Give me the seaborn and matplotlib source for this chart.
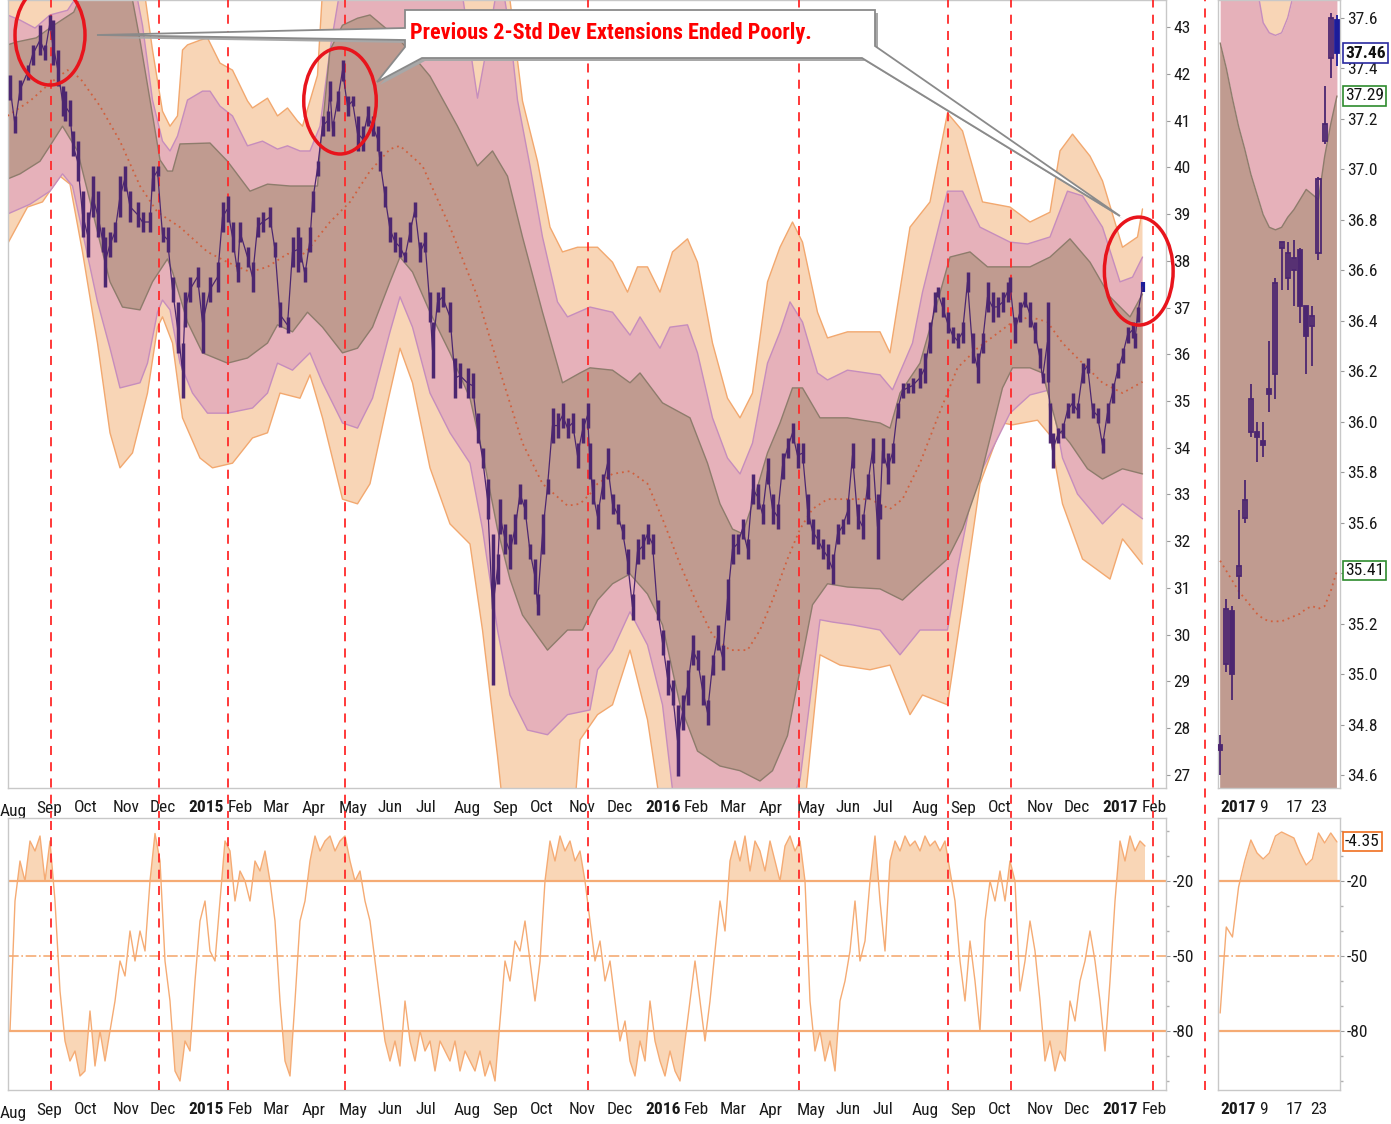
import numpy as np
import pandas as pd
import matplotlib
matplotlib.use("Agg")
import matplotlib.pyplot as plt
import matplotlib.transforms as mtrans
import seaborn as sns
from matplotlib.patches import Ellipse, Polygon, Rectangle
from matplotlib.lines import Line2D
from matplotlib import font_manager as fm

sns.set_theme(style="white")


def pick_font():
    for f in ["Liberation Sans Narrow", "Roboto Condensed", "DejaVu Sans"]:
        try:
            fm.findfont(f, fallback_to_default=False)
            return f
        except Exception:
            pass
    return "DejaVu Sans"


FONT = pick_font()
plt.rcParams["font.family"] = [FONT, "DejaVu Sans"]

# ---------------- data (x = days since 2014-08-01) ----------------
BASE = "2014-08-01"

price_day = [10,14,18,24,28,34,38,42,44,48,52,54,58,60,64,68,72,76,80,84,86,90,94,98,102,106,112,116,122,124,
             128,132,136,140,144,148,150,154,160,164,170,176,180,184,188,192,194,200,204,208,212,218,222,226,232,236,240,242,246,250,
             252,256,260,264,266,268,272,276,280,284,288,292,296,300,304,306,310,314,318,322,326,330,334,338,342,346,348,352,356,362,
             366,370,376,380,384,388,392,396,400,402,406,410,414,418,422,426,430,432,436,440,444,448,452,456,460,464,468,472,474,476,
             480,484,488,492,496,500,504,508,512,516,520,524,528,532,536,540,544,548,552,556,560,564,568,572,576,580,584,588,592,596,
             600,604,608,612,616,620,624,628,632,636,640,644,648,652,656,660,664,668,672,676,680,684,688,692,696,700,704,706,708,712,
             716,720,724,728,732,738,742,746,750,752,756,760,764,768,772,776,780,784,788,792,796,800,804,808,810,814,818,822,826,830,
             834,836,840,842,844,848,852,856,860,864,868,872,876,880,884,888,892,896,900,904,908,910,912,916]
price_high = [41.97,41.10,41.87,42.19,42.62,43.04,42.62,43.26,43.15,42.51,41.74,41.63,41.44,40.78,40.56,39.49,39.04,39.81,39.49,38.72,
              38.51,38.62,38.83,39.81,40.03,39.49,39.26,39.04,39.04,40.03,40.03,38.72,38.72,37.65,37.12,36.24,37.33,37.65,37.87,37.33,
              37.65,37.97,39.26,39.39,38.83,37.97,38.83,38.29,37.97,38.94,39.04,39.15,38.40,37.12,36.80,38.51,38.72,38.51,37.87,38.72,
              39.49,40.14,41.10,41.20,41.85,40.99,41.63,42.29,41.52,41.52,41.10,40.88,41.31,41.10,40.88,40.35,39.60,38.94,38.62,38.51,
              38.19,38.83,39.26,38.40,38.62,37.33,36.69,37.33,37.44,37.12,35.92,35.81,35.71,35.60,34.74,33.99,33.33,32.16,31.73,32.90,
              32.37,32.16,32.58,33.23,32.90,31.94,31.62,30.87,32.58,33.33,34.85,34.74,34.96,34.64,34.74,34.10,34.64,34.96,34.10,33.33,
              32.80,33.44,33.99,33.01,32.80,32.37,31.84,30.87,32.05,32.16,32.37,32.16,30.74,30.10,29.46,29.03,28.50,28.71,29.25,29.99,
              29.67,29.14,28.60,29.57,30.21,29.78,31.19,32.16,32.16,32.48,32.05,33.44,33.23,32.80,33.78,33.01,32.80,33.89,34.21,34.53,
              34.10,34.10,33.01,32.48,32.26,32.05,31.94,31.73,32.37,32.48,32.90,34.10,32.80,32.58,33.44,34.21,33.01,32.80,34.21,33.89,
              34.10,34.96,35.39,35.39,35.49,35.71,36.03,36.69,37.33,37.44,37.23,36.90,36.58,36.45,36.69,37.76,36.45,36.03,36.45,37.55,
              37.33,37.23,37.33,37.55,37.65,36.80,37.12,37.33,37.12,36.69,36.13,35.60,37.12,34.96,34.32,34.42,34.53,34.96,35.17,34.96,
              35.81,35.92,34.96,34.85,34.21,34.96,35.39,35.81,36.13,36.58,36.69,36.45,37.01,37.55]
price_low = [41.44,40.73,41.44,41.87,42.19,42.40,42.29,42.94,42.19,41.74,41.10,40.99,40.88,40.24,39.71,38.51,38.08,38.94,38.51,38.19,
             37.44,38.08,38.40,38.94,39.49,38.83,38.72,38.62,38.62,39.49,39.81,38.40,38.19,37.12,36.03,35.06,36.58,37.12,37.44,36.03,
             37.12,37.33,38.62,38.83,38.19,37.55,38.40,37.87,37.33,38.51,38.62,38.72,38.08,36.58,36.45,37.87,37.76,37.97,37.55,38.19,
             39.04,39.81,40.67,40.78,41.42,40.67,41.20,41.85,41.10,41.31,40.35,40.35,40.88,40.67,40.35,39.92,39.15,38.40,38.19,38.08,
             37.97,38.40,38.94,37.97,38.19,36.69,35.49,36.90,37.01,36.48,35.06,35.28,35.06,35.06,34.10,33.57,32.48,28.93,31.09,32.16,
             31.73,31.41,31.94,32.80,32.48,31.62,30.87,30.42,31.73,33.01,34.10,34.21,34.42,34.21,34.32,33.57,34.10,34.42,33.33,32.80,
             32.26,32.90,33.33,32.58,32.37,32.05,31.30,30.32,31.51,31.62,31.94,31.73,30.32,29.57,28.71,28.50,26.98,27.96,28.50,29.35,
             29.25,28.50,28.07,29.14,29.67,29.25,30.32,31.51,31.73,32.05,31.62,32.80,32.69,32.37,33.23,32.37,32.26,33.33,33.78,34.10,
             33.57,33.67,32.37,31.94,31.84,31.62,31.41,31.09,31.94,32.16,32.37,33.57,32.26,32.05,32.90,33.67,31.62,32.48,33.67,33.23,
             33.67,34.64,35.06,35.17,35.17,35.28,35.39,36.03,36.90,37.23,36.80,36.45,36.24,36.13,36.24,37.33,35.81,35.39,36.03,36.90,
             36.69,36.80,36.90,37.12,37.33,36.24,36.69,37.01,36.58,36.24,35.71,35.39,35.40,34.10,33.57,34.10,34.21,34.64,34.74,34.64,
             35.39,35.60,34.64,34.53,33.89,34.53,34.96,35.49,35.81,36.24,36.35,36.13,36.69,37.33]

ma_day = [8,26,42,56,66,82,98,114,128,146,168,184,202,216,232,242,250,266,282,298,314,322,340,362,384,400,420,436,456,466,
          474,480,492,506,520,532,546,560,572,586,600,610,620,632,642,652,664,680,698,714,724,738,752,768,784,800,812,826,840,852,
          868,884,900,916]
ma_val = [41.10,41.42,41.80,42.08,41.91,41.31,40.56,39.60,39.04,38.72,38.19,37.97,37.76,37.87,38.15,38.08,38.29,38.83,39.26,39.92,
          40.39,40.46,40.03,38.72,37.23,35.81,34.10,33.23,32.76,32.80,33.01,33.23,33.44,33.50,33.23,32.48,31.51,30.64,29.99,29.67,
          29.67,30.10,30.74,31.62,32.26,32.69,32.90,32.90,32.90,32.69,32.90,33.67,34.64,35.71,36.13,36.45,36.69,36.80,36.69,36.24,
          35.81,35.39,35.17,35.41]

# inner (brown) band
bu_day = [8,15,31,45,61,72,82,98,108,114,122,130,136,140,146,170,184,202,216,234,256,258,266,276,288,298,322,346,368,384,
          396,408,420,436,452,466,474,492,506,514,532,554,568,578,588,596,604,616,626,636,644,658,680,706,714,722,738,752,762,778,
          792,810,826,842,858,874,890,906,916]
bu_val = [42.62,42.68,42.77,43.04,43.32,44.01,44.43,44.43,43.58,42.72,41.44,40.16,39.92,39.92,40.50,40.52,40.13,39.49,39.64,39.60,
          39.60,40.35,42.51,43.04,43.19,43.26,42.72,41.95,40.88,40.03,40.35,39.81,38.51,36.90,35.39,35.60,35.71,35.66,35.39,35.60,
          34.96,34.64,33.67,32.80,32.26,32.16,32.80,33.89,34.53,35.28,35.28,34.64,34.64,34.53,34.42,35.17,35.81,37.12,38.08,38.19,
          37.87,37.87,37.87,38.08,38.47,37.97,37.23,36.80,37.29]
bl_day = [8,18,34,42,52,64,74,82,90,100,114,124,136,140,152,164,184,200,216,224,236,248,260,276,288,300,314,322,332,346,
          362,378,388,400,410,420,440,456,468,480,492,506,520,532,546,560,578,594,610,620,632,642,652,664,680,706,724,738,760,772,
          786,804,812,826,836,848,858,872,884,900,916]
bl_val = [39.75,39.86,40.13,40.46,40.88,40.35,39.28,38.40,37.55,37.01,36.95,37.55,38.04,37.76,36.69,36.03,35.81,35.92,36.24,36.63,
          36.48,36.90,36.58,36.03,36.13,36.58,37.55,38.08,37.76,36.90,36.03,35.06,33.89,32.26,31.19,30.42,29.67,30.10,30.10,30.74,
          31.09,31.30,30.87,30.21,28.50,27.51,27.19,27.09,26.87,27.09,27.84,29.25,30.64,31.09,31.02,30.98,30.74,31.09,31.62,32.26,
          33.33,35.28,35.71,35.71,35.60,34.42,34.10,33.55,33.33,33.55,33.44]
# 2-std (pink) band
pu_day = [8,18,30,42,56,64,82,106,116,124,132,138,144,152,164,170,178,188,200,212,224,232,242,250,258,266,274,290,330,372,
          380,384,394,402,410,416,426,436,448,456,474,492,506,514,530,538,552,560,572,584,594,604,616,626,634,644,656,664,680,706,
          716,732,740,760,772,786,810,824,842,856,868,884,898,908,916]
pu_val = [43.26,43.15,42.98,43.26,43.36,43.68,44.43,44.43,43.04,41.44,40.56,40.35,40.67,41.44,41.63,41.63,41.31,41.10,40.46,40.56,
          40.39,40.46,40.35,40.35,40.88,42.51,43.79,44.43,44.43,43.68,42.20,41.48,42.94,44.22,42.90,41.44,40.03,38.51,37.12,36.80,
          37.01,36.90,36.41,36.80,36.13,36.58,36.63,36.03,34.64,33.78,33.44,34.10,35.81,36.48,37.12,36.69,35.60,35.45,35.66,35.56,
          35.24,36.24,37.33,39.49,39.49,38.72,38.40,38.36,38.51,39.49,39.39,38.72,37.55,37.65,38.08]
pl_day = [8,26,42,52,60,68,80,90,98,114,120,128,132,138,146,156,168,184,204,216,224,236,250,260,276,288,300,314,322,332,
          346,362,378,388,400,410,424,440,456,474,480,492,506,520,532,540,562,626,642,650,658,668,684,706,722,738,760,768,778,788,
          810,826,842,852,864,884,900,916]
pl_val = [39.00,39.21,39.49,39.86,39.60,38.62,37.12,36.13,35.28,35.39,35.81,36.90,37.16,36.95,35.81,35.17,34.74,34.74,34.85,35.17,
          35.81,35.66,36.03,35.39,34.53,34.42,35.06,36.48,37.23,36.58,35.17,34.32,33.67,32.26,30.10,28.71,27.96,27.86,28.29,28.39,
          29.25,29.67,30.49,29.78,28.50,26.68,25.80,25.80,26.89,28.60,30.32,30.27,30.21,30.10,29.57,30.10,30.10,31.41,32.80,33.55,
          34.74,35.13,35.24,33.78,33.01,32.37,32.80,32.48]
# 3-std (orange) band
ou_day = [8,114,124,132,138,144,148,152,162,168,178,188,200,204,216,224,232,240,244,256,260,274,406,414,420,432,442,452,464,480,
          492,504,512,520,530,540,552,560,572,584,594,604,616,626,636,644,656,664,680,706,714,730,746,760,772,788,810,826,842,850,
          860,874,884,900,912,916]
ou_val = [44.43,44.43,42.51,41.20,40.88,41.10,42.51,42.62,42.72,42.77,42.23,42.08,41.42,41.27,41.48,41.10,41.27,40.99,40.88,41.97,
          43.79,44.43,44.43,42.72,41.42,40.13,38.72,38.19,38.29,38.29,37.97,37.33,37.87,37.87,37.33,38.19,38.47,37.97,36.24,35.06,
          34.64,35.17,37.55,38.29,38.83,38.40,36.90,36.35,36.48,36.48,36.03,38.72,39.26,41.16,40.78,39.26,39.15,38.83,39.04,40.35,
          40.71,40.24,39.71,38.29,38.51,39.11]
ol_day = [8,24,36,50,58,68,80,90,98,108,120,128,132,140,148,162,172,188,204,216,226,242,250,260,276,288,298,312,322,332,
          346,362,378,388,400,404,462,466,480,492,506,520,530,646,658,674,698,714,730,740,760,772,786,804,812,832,842,852,868,890,
          900,916]
ol_val = [38.36,39.15,39.26,39.81,39.64,38.19,36.24,34.32,33.57,33.89,35.17,36.58,36.80,36.24,34.64,33.78,33.57,33.67,34.21,34.32,
          35.17,35.06,35.56,34.64,32.90,32.80,33.23,34.96,36.13,35.39,33.57,32.37,31.94,30.10,27.41,26.40,26.40,27.75,28.29,28.50,
          29.67,28.18,26.40,26.40,29.57,29.35,29.25,29.35,28.29,28.71,28.50,30.64,33.23,34.53,34.49,34.59,34.27,32.80,31.62,31.19,
          32.05,31.51]

# Williams %R, sampled every 4 days from day 10
osc_val = [-80,-28,-12,-20,-4,-8,-2,-20,-4,-28,-64,-84,-92,-88,-98,-96,-72,-94,-80,-92,
           -80,-68,-52,-58,-40,-52,-40,-48,-20,-1,-12,-52,-68,-96,-100,-84,-88,-60,-36,-28,
           -48,-52,-28,-4,-8,-28,-16,-20,-28,-12,-16,-8,-20,-36,-68,-92,-98,-68,-36,-28,
           -12,-2,-8,-4,-2,-8,-4,-2,-12,-20,-16,-28,-36,-52,-68,-84,-92,-84,-94,-68,
           -84,-92,-80,-88,-84,-96,-84,-88,-92,-84,-96,-88,-92,-96,-88,-98,-92,-100,-76,-52,
           -60,-44,-48,-36,-52,-68,-52,-20,-4,-12,-2,-8,-4,-12,-8,-20,-36,-52,-44,-60,
           -52,-68,-84,-76,-92,-98,-84,-92,-68,-84,-92,-98,-88,-96,-100,-84,-68,-52,-68,-84,
           -68,-48,-28,-40,-12,-4,-12,-2,-16,-4,-8,-16,-4,-12,-20,-6,-2,-8,-4,-20,
           -68,-88,-80,-92,-84,-96,-68,-60,-48,-28,-52,-44,-20,-2,-28,-48,-12,-4,-8,-2,
           -6,-4,-8,-2,-6,-4,-8,-4,-16,-28,-52,-68,-44,-60,-80,-36,-20,-28,-16,-28,
           -12,-20,-64,-52,-36,-48,-68,-92,-84,-96,-88,-92,-68,-76,-60,-52,-40,-52,-68,-88,
           -60,-28,-4,-12,-2,-8,-4,-6]

event_dates = ["2014-09-13", "2014-12-08", "2015-02-01", "2015-05-06", "2015-11-16",
               "2016-05-03", "2016-08-30", "2016-10-20", "2017-02-10"]

# right panel: daily candles, Dec 28 2016 .. Jan 26 2017
rp_open  = [34.72,35.04,35.25,35.39,35.62,35.96,35.96,35.92,36.13,36.19,36.69,36.57,36.60,36.68,36.46,36.38,36.67,37.11,37.44,37.59]
rp_high  = [34.76,35.30,35.27,35.65,35.77,36.15,36.00,36.00,36.32,36.57,36.71,36.71,36.72,36.69,36.46,36.46,36.97,37.33,37.62,37.61]
rp_low   = [34.60,35.01,34.90,35.30,35.60,35.94,35.84,35.86,36.04,36.09,36.52,36.52,36.46,36.39,36.19,36.22,36.64,37.10,37.36,37.41]
rp_close = [34.70,35.26,35.00,35.43,35.69,36.09,35.94,35.91,36.11,36.55,36.71,36.67,36.65,36.46,36.34,36.42,36.96,37.18,37.60,37.46]
rp_ma    = [35.45,35.41,35.37,35.33,35.30,35.27,35.24,35.22,35.21,35.21,35.21,35.22,35.23,35.24,35.26,35.27,35.26,35.27,35.33,35.41]
rp_bu    = [37.50,37.40,37.28,37.17,37.08,36.98,36.90,36.82,36.77,36.76,36.77,36.81,36.84,36.88,36.92,36.90,36.88,37.05,37.18,37.29]
rp_pu    = [38.30,38.20,38.10,38.00,37.90,37.80,37.72,37.58,37.54,37.53,37.54,37.60,37.70,37.80,37.90,38.00,38.10,38.20,38.30,38.40]
rp_osc   = [-72.8,-38.4,-42.4,-22.4,-12,-3.6,-8.8,-11.2,-8.8,-2,-0.4,-1.6,-2.8,-8.8,-13.6,-11.2,-0.8,-4.8,-0.8,-4.35]
rp_tick_idx = [3, 7, 12, 16]
rp_tick_lab = ["2017", "9", "17", "23"]

# ---------------- styling ----------------
C_OR, C_ORE = "#f8d5b6", "#f2a86f"
C_PK, C_PKE = "#e6b1ba", "#c68dbd"
C_BR, C_BRE = "#c09b90", "#8e7c6c"
C_PR = "#4c2670"
C_MA = "#d0603e"
C_RED = "#ff2a2a"
C_OSC, C_OSCF = "#f5ab74", "#f9d6b6"
C_SP = "#c8c8c8"

W, H = 1391, 1124
fig = plt.figure(figsize=(W / 100, H / 100), dpi=100, facecolor="white")


def rect(x0, y0, x1, y1):
    return [x0 / W, 1 - y1 / H, (x1 - x0) / W, (y1 - y0) / H]


ax = fig.add_axes(rect(8, 0, 1166, 788))
axr = fig.add_axes(rect(1218, 0, 1340, 788))
axo = fig.add_axes(rect(8, 818, 1166, 1090))
axor = fig.add_axes(rect(1218, 818, 1340, 1090))

base = pd.Timestamp(BASE)
XL = (8.4, 934.8)


def style(a):
    a.set_facecolor("white")
    for s in a.spines.values():
        s.set_color(C_SP)
        s.set_linewidth(1.0)
    a.tick_params(axis="both", colors="#9a9a9a", labelcolor="#1a1a1a", labelsize=12.5,
                  length=3, width=0.8, pad=2)
    a.yaxis.tick_right()
    a.grid(False)


for a in (ax, axr, axo, axor):
    style(a)


def band(a, ud, uv, ld, lv, face, edge, z):
    xs = list(ud) + list(ld)[::-1]
    ys = list(uv) + list(lv)[::-1]
    a.fill(xs, ys, facecolor=face, edgecolor="none", zorder=z)
    a.plot(ud, uv, color=edge, lw=1.0, zorder=z + 0.1)
    a.plot(ld, lv, color=edge, lw=1.0, zorder=z + 0.1)


band(ax, ou_day, ou_val, ol_day, ol_val, C_OR, C_ORE, 1)
band(ax, pu_day, pu_val, pl_day, pl_val, C_PK, C_PKE, 1.5)
band(ax, bu_day, bu_val, bl_day, bl_val, C_BR, C_BRE, 2)

sns.lineplot(x=ma_day, y=ma_val, ax=ax, color=C_MA, lw=1.3, linestyle=(0, (1, 2.2)),
             estimator=None, sort=False, zorder=3)

pdays = np.array(price_day)
ph = np.array(price_high)
pl = np.array(price_low)
mid = (ph + pl) / 2
ax.vlines(pdays[:-1], pl[:-1], ph[:-1], color=C_PR, lw=2.5, zorder=4)
ax.vlines(pdays[-1:], pl[-1:], ph[-1:], color="#1c1c9a", lw=3.0, zorder=4)
sns.lineplot(x=pdays, y=mid, ax=ax, color=C_PR, lw=0.9, estimator=None, sort=False, zorder=4)

ax.set_xlim(*XL)
ax.set_ylim(26.72, 43.58)
ax.set_yticks(range(27, 44))
ax.set_yticklabels([str(v) for v in range(27, 44)])
ax.set_xlabel("")
ax.set_ylabel("")

# month ticks
months = pd.date_range("2014-09-01", "2017-02-01", freq="MS")
mdays = [(m - base).days for m in months]
mlabs = [str(m.year) if m.month == 1 else m.strftime("%b") for m in months]
for a in (ax, axo):
    a.set_xticks(mdays)
    a.set_xticklabels(mlabs, ha="left")
    for t, m in zip(a.get_xticklabels(), months):
        if m.month == 1:
            t.set_fontweight("bold")
    a.tick_params(axis="x", pad=6)
    a.text(2, -0.02 if a is ax else -0.06, "Aug",
           transform=mtrans.blended_transform_factory(a.transData, a.transAxes),
           ha="left", va="top", fontsize=12.5, color="#1a1a1a", clip_on=False)

# event lines
ev = [(pd.Timestamp(d) - base).days for d in event_dates]
for d in ev:
    ax.axvline(d, ymin=-0.04, ymax=1, color=C_RED, lw=1.3, ls=(0, (5, 4)), zorder=3.5, clip_on=False)
    axo.axvline(d, ymin=0, ymax=1, color=C_RED, lw=1.3, ls=(0, (5, 4)), zorder=3.5)
fig.add_artist(Line2D([1205 / W, 1205 / W], [1 - 1090 / H, 1], transform=fig.transFigure,
                      color=C_RED, lw=1.3, ls=(0, (5, 4))))

# circles
for (cx, cy, w, h) in [(42, 42.83, 56, 2.14), (274, 41.42, 58, 2.27), (913, 37.78, 55, 2.31)]:
    e = Ellipse((cx, cy), w, h, fill=False, ec="#e8141c", lw=2.5, zorder=6, clip_on=(cx < 900))
    ax.add_patch(e)


# callout
def ax_px(x, y):
    return ((x - 8) / 1158.0, 1 - y / 788.0)


pts = [(405, 10), (875, 10), (875, 46), (1120, 216), (862, 58), (422, 58), (377, 82),
       (405, 47), (405, 40), (97, 35), (405, 28)]
shadow = Polygon([ax_px(x + 3, y + 3) for x, y in pts], closed=True, transform=ax.transAxes,
                 fc="#a8a8a8", ec="none", zorder=7, clip_on=False)
box = Polygon([ax_px(x, y) for x, y in pts], closed=True, transform=ax.transAxes,
              fc="white", ec="#8a8a8a", lw=1.3, zorder=8, clip_on=False)
ax.add_patch(shadow)
ax.add_patch(box)
ax.text(*ax_px(410, 33), "Previous 2-Std Dev Extensions Ended Poorly.", transform=ax.transAxes,
        color="#ff0000", fontsize=16, fontweight="bold", ha="left", va="center", zorder=9)

# ---------------- right price panel ----------------
idx = np.arange(len(rp_close))
axr.fill_between(idx, rp_pu, 40, color=C_OR, zorder=1, lw=0)
axr.fill_between(idx, rp_bu, rp_pu, color=C_PK, zorder=1, lw=0)
axr.fill_between(idx, 30, rp_bu, color=C_BR, zorder=1, lw=0)
axr.plot(idx, rp_pu, color=C_PKE, lw=1.0, zorder=1.2)
axr.plot(idx, rp_bu, color=C_BRE, lw=1.0, zorder=1.2)
sns.lineplot(x=idx, y=rp_ma, ax=axr, color=C_MA, lw=1.3, linestyle=(0, (1, 2.2)),
             estimator=None, sort=False, zorder=3)
for i in idx:
    o, h, l, c = rp_open[i], rp_high[i], rp_low[i], rp_close[i]
    col = "#1c1c9a" if i == idx[-1] else C_PR
    axr.vlines(i, l, h, color=col, lw=1.3, zorder=4)
    fc = col if c < o else "none"
    axr.add_patch(Rectangle((i - 0.33, min(o, c)), 0.66, max(abs(c - o), 0.012),
                            fc=fc, ec=col, lw=1.3, zorder=5))
axr.set_xlim(-0.35, 19.5)
axr.set_ylim(34.55, 37.67)
rticks = np.round(np.arange(34.6, 37.61, 0.2), 1)
axr.set_yticks(rticks)
# the 35.4 label sits fully under the 35.41 value flag
axr.set_yticklabels(["" if abs(v - 35.4) < 1e-6 else f"{v:.1f}" for v in rticks])
axr.set_xticks(rp_tick_idx)
axr.set_xticklabels(rp_tick_lab)
axr.get_xticklabels()[0].set_fontweight("bold")
axr.set_xticks(idx, minor=True)
axr.tick_params(axis="x", which="minor", length=2, colors="#b0b0b0")
axr.tick_params(axis="x", pad=6)
axr.set_xlabel("")
axr.set_ylabel("")

bt = mtrans.blended_transform_factory(axr.transAxes, axr.transData)
for val, txt, ec, bold in [(37.46, "37.46", "#2a2aa0", True), (37.29, "37.29", "#2e8b2e", False),
                           (35.41, "35.41", "#2e8b2e", False)]:
    axr.text(1.04, val, txt, transform=bt, ha="left", va="center", fontsize=12.5,
             fontweight="bold" if bold else "normal", color="#111111", zorder=10, clip_on=False,
             bbox=dict(boxstyle="square,pad=0.12", fc="white", ec=ec, lw=1.2))

# ---------------- oscillator ----------------
osc = np.array(osc_val, dtype=float)
oday = 10 + np.arange(len(osc)) * (908.0 / (len(osc) - 1))
axo.fill_between(oday, osc, -20, where=osc > -20, interpolate=True, color=C_OSCF, lw=0, zorder=1)
axo.fill_between(oday, osc, -80, where=osc < -80, interpolate=True, color=C_OSCF, lw=0, zorder=1)
axo.axhline(-20, color=C_OSC, lw=1.6, zorder=2)
axo.axhline(-80, color=C_OSC, lw=1.6, zorder=2)
axo.axhline(-50, color=C_OSC, lw=1.2, ls="-.", zorder=2)
sns.lineplot(x=oday, y=osc, ax=axo, color=C_OSC, lw=1.0, estimator=None, sort=False, zorder=3)
axo.set_xlim(*XL)
axo.set_ylim(-103.6, 5.2)
axo.set_yticks([-20, -50, -80])
axo.set_yticklabels(["-20", "-50", "-80"])
axo.set_yticks(np.arange(-100, 1, 10), minor=True)
axo.tick_params(axis="y", which="minor", length=2, colors="#b0b0b0")
axo.set_xlabel("")
axo.set_ylabel("")

ro = np.array(rp_osc)
axor.fill_between(idx, ro, -20, where=ro > -20, interpolate=True, color=C_OSCF, lw=0, zorder=1)
axor.axhline(-20, color=C_OSC, lw=1.6, zorder=2)
axor.axhline(-80, color=C_OSC, lw=1.6, zorder=2)
axor.axhline(-50, color=C_OSC, lw=1.2, ls="-.", zorder=2)
sns.lineplot(x=idx, y=ro, ax=axor, color=C_OSC, lw=1.0, estimator=None, sort=False, zorder=3)
axor.set_xlim(-0.35, 19.5)
axor.set_ylim(-103.6, 5.2)
axor.set_yticks([-20, -50, -80])
axor.set_yticklabels(["-20", "-50", "-80"])
axor.set_yticks(np.arange(-100, 1, 10), minor=True)
axor.tick_params(axis="y", which="minor", length=2, colors="#b0b0b0")
axor.set_xticks(rp_tick_idx)
axor.set_xticklabels(rp_tick_lab)
axor.get_xticklabels()[0].set_fontweight("bold")
axor.set_xticks(idx, minor=True)
axor.tick_params(axis="x", which="minor", length=2, colors="#b0b0b0")
axor.tick_params(axis="x", pad=6)
axor.set_xlabel("")
axor.set_ylabel("")
bto = mtrans.blended_transform_factory(axor.transAxes, axor.transData)
axor.text(1.04, rp_osc[-1], f"{rp_osc[-1]:.2f}", transform=bto, ha="left", va="center", fontsize=12.5,
          color="#111111", zorder=10, clip_on=False,
          bbox=dict(boxstyle="square,pad=0.12", fc="white", ec="#f07020", lw=1.2))

assert len(price_day) == len(price_high) == len(price_low), (len(price_day), len(price_high), len(price_low))

fig.savefig("out.png", dpi=100, facecolor="white")
